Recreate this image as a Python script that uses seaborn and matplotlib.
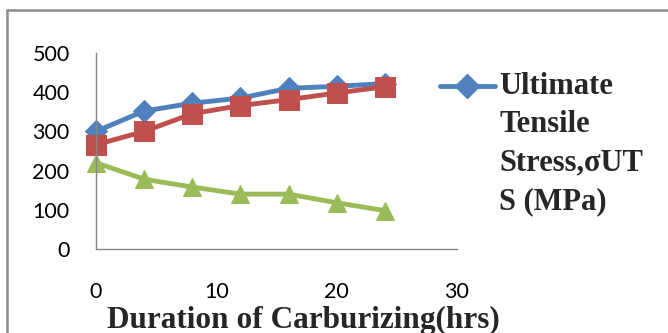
import matplotlib
matplotlib.use("Agg")
import matplotlib.pyplot as plt
import seaborn as sns
import pandas as pd
from matplotlib.lines import Line2D

# ---- data ----
hours = [0, 4, 8, 12, 16, 20, 24]
uts = [300, 352, 372, 385, 410, 415, 422]
series2 = [266, 300, 345, 366, 381, 398, 414]
series3 = [220, 178, 158, 140, 140, 118, 98]
series_names = ["Ultimate Tensile Stress,σUTS (MPa)", "Series 2", "Series 3"]
legend_label = "Ultimate\nTensile\nStress,σUT\nS (MPa)"
x_ticks = [0, 10, 20, 30]
y_ticks = [0, 100, 200, 300, 400, 500]
x_label = "Duration of Carburizing(hrs)"

colors = ["#4F81BD", "#C0504D", "#9BBB59"]
marker_shapes = ["D", "s", "^"]
marker_sizes = [11.5, 14, 13]

sns.set_style("white")
plt.rcParams["font.family"] = ["Lato", "DejaVu Sans"]

W, H = 668, 333
fig = plt.figure(figsize=(W / 100, H / 100), dpi=100)
ax = fig.add_axes([96 / W, 1 - 249 / H, (457 - 96) / W, (249 - 53) / H])

df = pd.DataFrame({
    "hours": hours * 3,
    "value": uts + series2 + series3,
    "series": [series_names[0]] * len(hours) + [series_names[1]] * len(hours) + [series_names[2]] * len(hours),
})

sns.lineplot(data=df, x="hours", y="value", hue="series", style="series",
             hue_order=series_names, style_order=series_names,
             palette=dict(zip(series_names, colors)),
             markers=dict(zip(series_names, marker_shapes)),
             dashes=False, linewidth=3.5, legend=False, ax=ax)

for line, c, ms in zip(ax.lines, colors, marker_sizes):
    line.set_markersize(ms)
    line.set_markeredgecolor(c)
    line.set_markerfacecolor(c)
    line.set_solid_capstyle("round")
    line.set_solid_joinstyle("round")
    line.set_clip_on(False)

ax.set_xlim(0, 30)
ax.set_ylim(0, 500)
ax.set_xticks(x_ticks)
ax.set_yticks(y_ticks)
ax.tick_params(axis="both", length=0, labelsize=15.5, colors="black")
ax.tick_params(axis="x", pad=24)
ax.tick_params(axis="y", pad=19)
for s in ["top", "right"]:
    ax.spines[s].set_visible(False)
for s in ["left", "bottom"]:
    ax.spines[s].set_color("#868686")
    ax.spines[s].set_linewidth(1)
ax.set_ylabel("")
ax.set_xlabel(x_label, fontsize=22.5, fontweight="bold", family="Liberation Serif",
              va="center", ha="center")
ax.xaxis.set_label_coords((303 - 96) / (457 - 96), (249 - 320) / (249 - 53))

# legend (only the first entry is visible in the reference)
fig.add_artist(Line2D([440 / W, 467 / W, 495 / W], [1 - 86 / H] * 3,
                      transform=fig.transFigure, color=colors[0], lw=3.5,
                      marker="D", ms=12.5, markevery=[1],
                      markeredgecolor=colors[0], markerfacecolor=colors[0],
                      solid_capstyle="round"))
fig.text(499 / W, 1 - 72 / H, legend_label, ha="left", va="top",
         family="Liberation Serif", fontweight="bold", fontsize=22,
         linespacing=1.42)

# outer chart frame (partially cut off in the reference)
fig.add_artist(Line2D([6.5 / W, 6.5 / W], [0, 1 - 9.5 / H], transform=fig.transFigure,
                      color="#8C8C8C", lw=1.8))
fig.add_artist(Line2D([6.5 / W, 1], [1 - 9.5 / H, 1 - 9.5 / H], transform=fig.transFigure,
                      color="#8C8C8C", lw=1.8))

fig.savefig("out.png", dpi=100)
